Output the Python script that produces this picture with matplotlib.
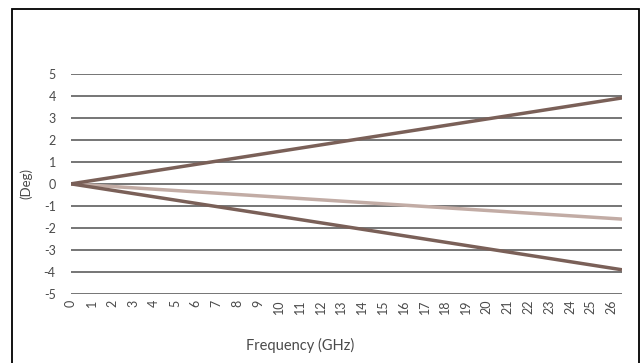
import matplotlib
matplotlib.use("Agg")
import matplotlib.pyplot as plt
from matplotlib.patches import Rectangle

plt.rcParams['font.family'] = ['Lato', 'DejaVu Sans']
plt.rcParams['axes.unicode_minus'] = False

# data
freq = [0, 26.5]
phase_up = [0, 3.9]
phase_mid = [0, -1.6]
phase_down = [0, -3.9]
xticks = list(range(0, 27))
yticks = list(range(-5, 6))

dark = '#7a6058'
light = '#c2aca5'
txt = '#4a4a4a'

fig = plt.figure(figsize=(6.43, 3.63), dpi=100)
ax = fig.add_axes([71/643, 1-294/363, (622-71)/643, (294-73.7)/363])

for y in yticks:
    ax.axhline(y, color='#5e5e5e', lw=1.2, zorder=1)

ax.plot(freq, phase_mid, color=light, lw=2.5, solid_capstyle='butt', zorder=3)
ax.plot(freq, phase_up, color=dark, lw=2.5, solid_capstyle='butt', zorder=4)
ax.plot(freq, phase_down, color=dark, lw=2.5, solid_capstyle='butt', zorder=4)

ax.set_xlim(0, 26.5)
ax.set_ylim(-5, 5)
ax.set_xticks(xticks)
ax.set_xticklabels([str(t) for t in xticks], rotation=90, fontsize=9, color=txt)
ax.set_yticks(yticks)
ax.set_yticklabels([str(t) for t in yticks], fontsize=9, color=txt)
ax.tick_params(axis='both', length=0)
ax.tick_params(axis='y', pad=11)
ax.tick_params(axis='x', pad=4)
for s in ax.spines.values():
    s.set_visible(False)

ax.set_ylabel('(Deg)', fontsize=9.5, color=txt)
ax.yaxis.set_label_coords((32-71)/551, 0.5)
ax.set_xlabel('Frequency (GHz)', fontsize=10.5, color=txt)
ax.xaxis.set_label_coords((300-71)/551, -(338-294)/220.3)

# outer frame
fig.patches.append(Rectangle((12/643, -0.05), (639-12)/643, 1-9/363+0.05,
                             transform=fig.transFigure, fill=False,
                             edgecolor='black', lw=1.3))

fig.savefig('out.png', dpi=100)
